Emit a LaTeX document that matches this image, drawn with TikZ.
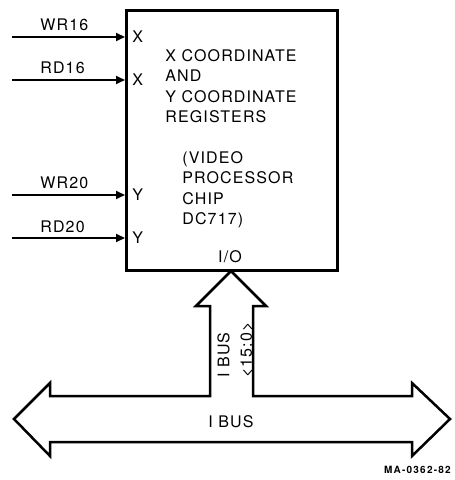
\documentclass[tikz,border=0pt]{standalone}
\usepackage{fontspec}
\setmainfont{TeX Gyre Heros}
\usetikzlibrary{arrows.meta}
\tikzset{
  sig/.style={line width=1pt,-{Triangle[length=4.5pt,width=4pt]}},
  lbl/.style={font=\fontsize{8}{10.25}\selectfont\addfontfeature{LetterSpace=7}, inner sep=0pt},
}
\begin{document}
\begin{tikzpicture}[x=0.5pt,y=-0.5pt]
  \useasboundingbox (0,0) rectangle (454,480);
  % chip block
  \node[draw, line width=1.5pt, minimum width=105.5pt, minimum height=130pt,
        anchor=north west, inner sep=0pt] (chip) at (125,9) {};
  % register select lines
  \foreach \nm/\y/\pin/\txt in {wr16/37/X/WR16, rd16/80/X/RD16, wr20/195/Y/WR20, rd20/238/Y/RD20} {
    \coordinate (\nm) at (12,\y);
    \draw[sig] (\nm) -- (\nm -| chip.west);
    \node[lbl, anchor=west] (\nm pin) at ([xshift=3.5pt]\nm -| chip.west) {\pin};
    \node[lbl, anchor=base west] (\nm lbl) at (40,{\y-6}) {\txt};
  }
  \node[lbl, align=left, anchor=north west] (regs) at (165,49)
    {X COORDINATE\\AND\\Y COORDINATE\\REGISTERS};
  \node[lbl, align=left, anchor=north west] (vpc) at (182,151)
    {(VIDEO\\PROCESSOR\\CHIP\\DC717)};
  \node[lbl] (io) at (230,257) {I/O};
  % bus
  \coordinate (bustip) at (231,271);
  \draw[line width=1.25pt, line join=miter] (bustip) -- (266,306) -- (253,306)
    -- (253,396) -- (412,396) -- (412,383) -- (450,419) -- (412,456) -- (412,442)
    -- (50,442) -- (50,456) -- (14,419) -- (50,383) -- (50,396) -- (210,396)
    -- (210,306) -- (196,306) -- cycle;
  \node[lbl, rotate=90, align=left, anchor=north west,
        font=\fontsize{8}{11.25}\selectfont\addfontfeature{LetterSpace=7}] (ibus16) at (217,378) {I BUS\\<15:0>};
  \node[lbl] (ibus) at (231,422) {I BUS};
  \node[lbl, anchor=east,
        font=\bfseries\fontsize{5}{6}\selectfont\addfontfeature{LetterSpace=12}] (fig) at (451,470) {MA-0362-82};
\end{tikzpicture}
\end{document}
